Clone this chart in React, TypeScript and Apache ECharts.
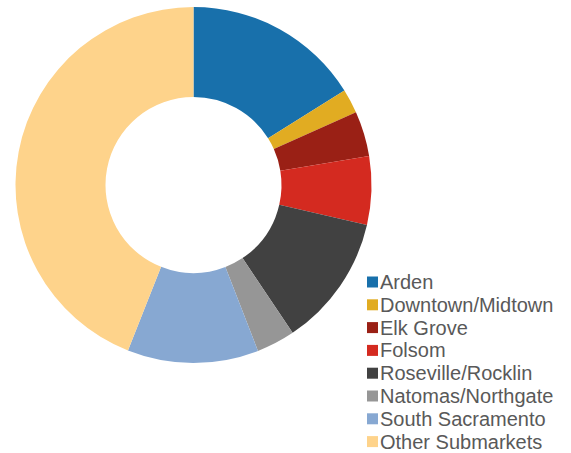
import React, { useEffect, useRef } from "react";
import * as echarts from "echarts";

const categories = [
  "Arden",
  "Downtown/Midtown",
  "Elk Grove",
  "Folsom",
  "Roseville/Rocklin",
  "Natomas/Northgate",
  "South Sacramento",
  "Other Submarkets",
];
const shares = [16.1, 2.2, 4.1, 6.2, 12.0, 3.5, 11.9, 44.0];
const colors = [
  "#1870AB",
  "#E1AC22",
  "#9A2015",
  "#D42A20",
  "#414141",
  "#969696",
  "#87A8D2",
  "#FED38B",
];

export default function App() {
  const ref = useRef<HTMLDivElement>(null);
  useEffect(() => {
    document.body.style.margin = "0";
    if (!ref.current) return;
    const chart = echarts.init(ref.current, null, { renderer: "svg" });
    chart.setOption({
      animation: false,
      color: colors,
      legend: {
        orient: "vertical",
        left: 367,
        top: 272,
        itemWidth: 11,
        itemHeight: 11,
        itemGap: 2.8,
        icon: "rect",
        textStyle: {
          fontFamily: "'Liberation Sans', Arial, sans-serif",
          fontSize: 20,
          lineHeight: 20,
          color: "#595959",
          padding: [0, 0, 0, -3],
        },
        padding: 0,
        data: categories,
      },
      series: [
        {
          type: "pie",
          center: [193.5, 185],
          radius: [88, 178],
          startAngle: 90,
          clockwise: true,
          label: { show: false },
          labelLine: { show: false },
          emphasis: { disabled: true },
          itemStyle: { borderWidth: 0 },
          data: categories.map((name, i) => ({ name, value: shares[i] })),
        },
      ],
    });
    return () => chart.dispose();
  }, []);
  return <div ref={ref} style={{ width: 571, height: 453 }} />;
}
